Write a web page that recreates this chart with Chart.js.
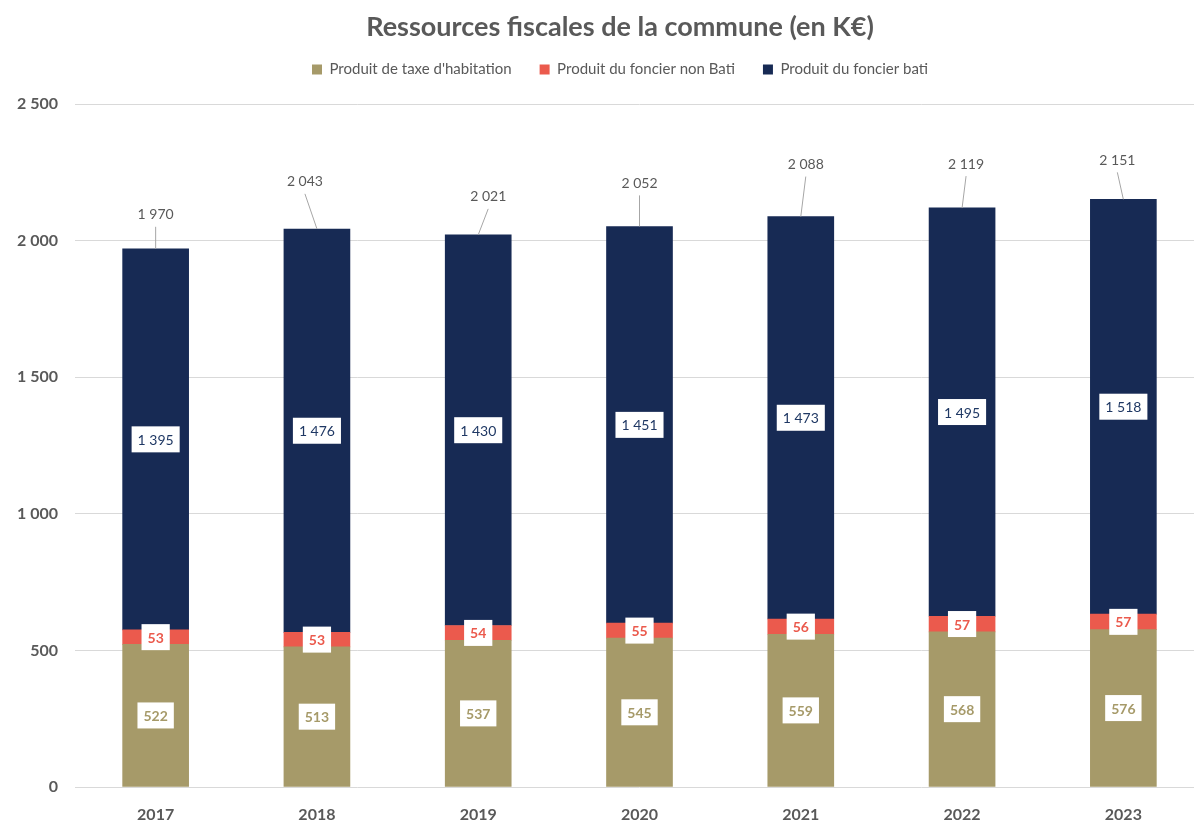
<!DOCTYPE html>
<html lang="fr">
<head>
<meta charset="utf-8">
<title>Ressources fiscales de la commune</title>
<script src="https://cdn.jsdelivr.net/npm/chart.js@4/dist/chart.umd.min.js"></script>
<style>
  html, body { margin: 0; padding: 0; background: #fff; overflow: hidden; }
  #wrap { width: 1250px; height: 821px; }
</style>
</head>
<body>
<div id="wrap"><canvas id="fiscalChart"></canvas></div>
<script>
// Ressources fiscales — stacked bars, values in K€

const years = ['2017', '2018', '2019', '2020', '2021', '2022', '2023'];
const taxeHabitation = [522, 513, 537, 545, 559, 568, 576];
const foncierNonBati = [53, 53, 54, 55, 56, 57, 57];
const foncierBati = [1395, 1476, 1430, 1451, 1473, 1495, 1518];
const totals = [1970, 2043, 2021, 2052, 2088, 2119, 2151];
const yTicks = [0, 500, 1000, 1500, 2000, 2500];

const GREY = '#595959';
const FONT = 'Lato, "Noto Sans", sans-serif';

// where each total label sits relative to the top of its bar (Excel moved them by hand)
const totalOffsets = [[0, -34], [-12, -47], [10, -38], [0, -43], [5, -52], [4, -44], [-6, -39]];

function fmt(v) {
  return String(v).replace(/\B(?=(\d{3})+(?!\d))/g, ' ');
}

// ─── White boxed labels inside the segments ──────────────────────

const segmentLabels = {
  id: 'segmentLabels',
  afterDatasetsDraw(chart) {
    const { ctx } = chart;
    ctx.save();
    ctx.textAlign = 'center';
    ctx.textBaseline = 'middle';
    chart.data.datasets.forEach((ds, i) => {
      const meta = chart.getDatasetMeta(i);
      ctx.font = (ds.labelBold ? 'bold ' : '') + '14px ' + FONT;
      meta.data.forEach((bar, j) => {
        const text = fmt(ds.data[j]);
        const w = ctx.measureText(text).width + 12;
        const h = 26;
        const cy = (bar.y + bar.base) / 2;
        ctx.fillStyle = '#ffffff';
        ctx.fillRect(bar.x - w / 2, cy - h / 2, w, h);
        ctx.fillStyle = ds.labelColor;
        ctx.fillText(text, bar.x, cy + 1);
      });
    });
    ctx.restore();
  },
};

// ─── Totals above the bars with leader lines ─────────────────────

const totalLabels = {
  id: 'totalLabels',
  afterDatasetsDraw(chart) {
    const { ctx } = chart;
    const x = chart.scales.x;
    const y = chart.scales.y;
    ctx.save();
    ctx.font = '14px ' + FONT;
    ctx.textAlign = 'center';
    ctx.textBaseline = 'middle';
    totals.forEach((t, i) => {
      const bx = x.getPixelForValue(i);
      const by = y.getPixelForValue(t);
      const [dx, dy] = totalOffsets[i];
      const tx = bx + dx;
      const ty = by + dy;
      ctx.strokeStyle = '#a6a6a6';
      ctx.lineWidth = 1;
      ctx.beginPath();
      ctx.moveTo(bx, by);
      ctx.lineTo(tx, ty + 12);
      ctx.stroke();
      ctx.fillStyle = GREY;
      ctx.fillText(fmt(t), tx, ty);
    });
    ctx.restore();
  },
};

new Chart(document.getElementById('fiscalChart'), {
  type: 'bar',
  data: {
    labels: years,
    datasets: [
      {
        label: "Produit de taxe d'habitation",
        data: taxeHabitation,
        backgroundColor: '#a69a69',
        labelColor: '#a69a69',
        labelBold: true,
      },
      {
        label: 'Produit du foncier non Bati',
        data: foncierNonBati,
        backgroundColor: '#eb5a4d',
        labelColor: '#eb5a4d',
        labelBold: true,
      },
      {
        label: 'Produit du foncier bati',
        data: foncierBati,
        backgroundColor: '#172a54',
        labelColor: '#1f3864',
        labelBold: false,
      },
    ],
  },
  options: {
    responsive: true,
    maintainAspectRatio: false,
    animation: false,
    datasets: { bar: { barThickness: 66 } },
    layout: { padding: { left: 0, right: 10, top: 0, bottom: 0 } },
    plugins: {
      title: {
        display: true,
        text: 'Ressources fiscales de la commune (en K€)',
        color: GREY,
        font: { family: FONT, size: 27, weight: 'bold', lineHeight: 1 },
        padding: { top: 14, bottom: -7 },
      },
      legend: {
        position: 'top',
        labels: {
          color: GREY,
          font: { family: FONT, size: 15 },
          boxWidth: 10,
          boxHeight: 10,
          padding: 28,
        },
      },
      tooltip: { enabled: false },
    },
    scales: {
      x: {
        stacked: true,
        grid: { display: false },
        border: { display: false },
        ticks: { color: GREY, font: { family: FONT, size: 16, weight: 'bold' }, padding: 10 },
        afterFit: (s) => { s.height = 34; },
      },
      // empty strip between legend and plot
      xTop: {
        type: 'category',
        position: 'top',
        grid: { display: false },
        border: { display: false },
        ticks: { display: false },
        afterFit: (s) => { s.height = 17; },
      },
      y: {
        stacked: true,
        min: 0,
        max: 2500,
        afterBuildTicks: (s) => { s.ticks = yTicks.map((v) => ({ value: v })); },
        afterFit: (s) => { s.width = 75; },
        grid: { color: '#d9d9d9', drawTicks: false },
        border: { display: false },
        ticks: {
          color: GREY,
          font: { family: FONT, size: 16, weight: 'bold' },
          padding: 17,
          callback: (v) => fmt(v),
        },
      },
      // empty strip on the right, keeps the plot area where Excel put it
      yRight: {
        position: 'right',
        grid: { display: false },
        border: { display: false },
        ticks: { display: false },
        afterFit: (s) => { s.width = 36; },
      },
    },
  },
  plugins: [segmentLabels, totalLabels],
});
</script>
</body>
</html>
